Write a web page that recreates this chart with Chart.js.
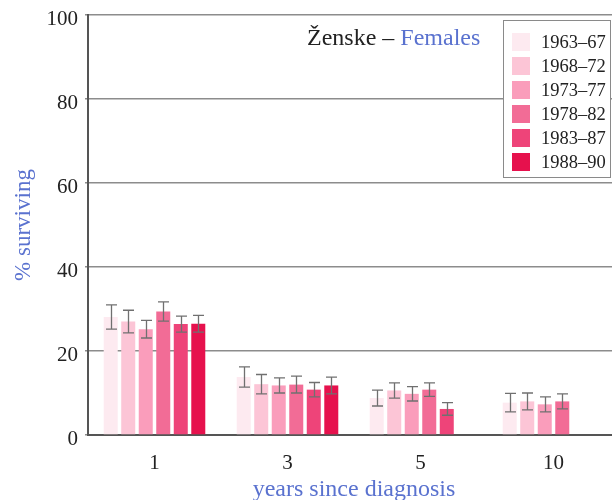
<!DOCTYPE html>
<html>
<head>
<meta charset="utf-8">
<script src="https://cdn.jsdelivr.net/npm/chart.js@4/dist/chart.umd.min.js"></script>
<style>
  html, body { margin: 0; padding: 0; background: #fff; overflow: hidden; width: 612px; height: 500px; }
  #wrap { width: 620px; height: 500px; position: relative; }
</style>
</head>
<body>
<div id="wrap"><canvas id="c"></canvas></div>
<script>
// Years since diagnosis
const categories = ['1', '3', '5', '10'];

// Relative survival (%) by period of diagnosis
const periods = ['1963–67', '1968–72', '1973–77', '1978–82', '1983–87', '1988–90'];
const surv6367 = [28.1, 13.8, 8.8, 7.7];
const surv6872 = [27.0, 12.1, 10.6, 8.0];
const surv7377 = [25.2, 11.8, 9.8, 7.3];
const surv7882 = [29.4, 12.0, 10.8, 8.0];
const surv8387 = [26.4, 10.8, 6.2, null];
const surv8890 = [26.5, 11.8, null, null];

// Half-width of the confidence interval (percentage points)
const ci6367 = [2.9, 2.4, 1.9, 2.2];
const ci6872 = [2.7, 2.3, 1.8, 2.0];
const ci7377 = [2.1, 1.8, 1.7, 1.8];
const ci7882 = [2.3, 2.0, 1.6, 1.8];
const ci8387 = [1.9, 1.7, 1.5, null];
const ci8890 = [2.0, 2.0, null, null];

const yTicks = [0, 20, 40, 60, 80, 100];

const colors = ['#fdeaf0', '#fcc5d6', '#fa9dbb', '#f26c96', '#ee4479', '#e6114d'];
const seriesValues = [surv6367, surv6872, surv7377, surv7882, surv8387, surv8890];
const seriesCI = [ci6367, ci6872, ci7377, ci7882, ci8387, ci8890];

const SERIF = '"Liberation Serif", "Times New Roman", serif';
const BLUE = '#5a72cf';

const datasets = periods.map((p, i) => ({
  label: p,
  data: seriesValues[i],
  ci: seriesCI[i],
  backgroundColor: colors[i],
  borderWidth: 0,
  barPercentage: 0.8,
  categoryPercentage: 0.79
}));

// Error bars drawn at each bar's position through the y scale
const errorBars = {
  id: 'errorBars',
  afterDatasetsDraw(chart) {
    const ctx = chart.ctx;
    const y = chart.scales.y;
    ctx.save();
    ctx.strokeStyle = '#707070';
    ctx.lineWidth = 1.3;
    chart.data.datasets.forEach((ds, di) => {
      const meta = chart.getDatasetMeta(di);
      meta.data.forEach((el, i) => {
        const v = ds.data[i], e = ds.ci[i];
        if (v == null || e == null) return;
        const x = Math.round(el.x) + 0.5;
        const yt = y.getPixelForValue(v + e);
        const yb = y.getPixelForValue(v - e);
        const cw = 5.5;
        ctx.beginPath();
        ctx.moveTo(x, yt); ctx.lineTo(x, yb);
        ctx.moveTo(x - cw, yt); ctx.lineTo(x + cw, yt);
        ctx.moveTo(x - cw, yb); ctx.lineTo(x + cw, yb);
        ctx.stroke();
      });
    });
    ctx.restore();
  }
};

// Heading and boxed legend inside the plot
const annotations = {
  id: 'annotations',
  afterDraw(chart) {
    const ctx = chart.ctx;
    ctx.save();
    // heading
    ctx.font = '24px ' + SERIF;
    ctx.textBaseline = 'alphabetic';
    ctx.textAlign = 'left';
    const part1 = 'Ženske – ';
    const x0 = 307, yb = 45;
    ctx.fillStyle = '#222';
    ctx.fillText(part1, x0, yb);
    const w1 = ctx.measureText(part1).width;
    ctx.fillStyle = BLUE;
    ctx.fillText('Females', x0 + w1, yb);

    // legend box
    const bx = 503.5, by = 20.5, bw = 107, bh = 157;
    ctx.fillStyle = '#fff';
    ctx.fillRect(bx, by, bw, bh);
    ctx.strokeStyle = '#8a8a8a';
    ctx.lineWidth = 1;
    ctx.strokeRect(bx, by, bw, bh);
    ctx.font = '18.5px ' + SERIF;
    ctx.textBaseline = 'middle';
    chart.data.datasets.forEach((ds, i) => {
      const cy = 42 + i * 24;
      ctx.fillStyle = ds.backgroundColor;
      ctx.fillRect(512, cy - 9, 18, 18);
      ctx.fillStyle = '#222';
      ctx.fillText(ds.label, 541, cy + 1);
    });
    ctx.restore();
  }
};

new Chart(document.getElementById('c'), {
  type: 'bar',
  data: { labels: categories, datasets },
  options: {
    responsive: true,
    maintainAspectRatio: false,
    animation: false,
    layout: { padding: { top: 15, right: 0, left: 0, bottom: 0 } },
    plugins: { legend: { display: false }, tooltip: { enabled: false } },
    scales: {
      x: {
        grid: { color: 'rgba(0,0,0,0)', drawTicks: false },
        border: { display: true, color: '#555', width: 2 },
        ticks: { color: '#222', font: { family: SERIF, size: 21 }, padding: 16 },
        title: { display: true, text: 'years since diagnosis', color: BLUE,
                 font: { family: SERIF, size: 24 }, padding: { top: 14, bottom: -4 } },
        afterFit(s) { s.height = 65; }
      },
      y: {
        min: 0, max: 100,
        afterBuildTicks(s) { s.ticks = yTicks.map(v => ({ value: v })); },
        grid: { color: '#8c8c8c', lineWidth: 1.5, tickLength: 3 },
        border: { display: true, color: '#555', width: 2 },
        ticks: { color: '#222', font: { family: SERIF, size: 21 }, padding: 7, labelOffset: 4 },
        title: { display: true, text: '% surviving', color: BLUE,
                 font: { family: SERIF, size: 23 }, padding: { top: 10, bottom: 0 } },
        afterFit(s) { s.width = 88; s.paddingTop = 0; s.paddingBottom = 0; }
      }
    }
  },
  plugins: [errorBars, annotations]
});
</script>
</body>
</html>
